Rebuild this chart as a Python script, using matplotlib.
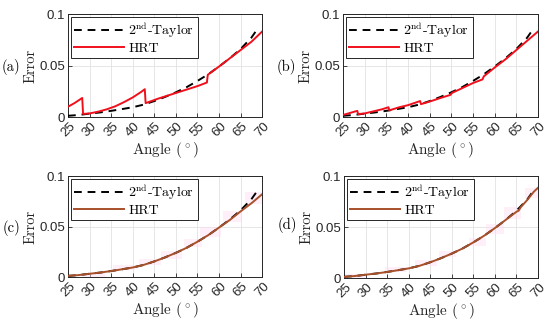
import numpy as np
import matplotlib
matplotlib.use('Agg')
import matplotlib.pyplot as plt

plt.rcParams['mathtext.fontset'] = 'cm'
plt.rcParams['axes.unicode_minus'] = False

# Data
taylor_x = [25, 27.5, 30, 32.5, 35, 37.5, 40, 42.5, 45, 47.5, 50, 52.5, 55, 57.5, 60, 62.5, 65, 67.5, 69]
taylor_y = [0.0012, 0.002, 0.0033, 0.0045, 0.006, 0.0077, 0.0095, 0.012, 0.0155, 0.0195, 0.024,
            0.029, 0.035, 0.0415, 0.049, 0.057, 0.066, 0.077, 0.086]

hrt_a_x = [25, 26.5, 28.3, 28.5, 30, 32, 34, 36, 38, 40, 42, 42.8, 43.0, 46, 49, 52, 55, 57.2, 57.4,
           60, 62.5, 65, 67.5, 70]
hrt_a_y = [0.010, 0.0135, 0.0185, 0.003, 0.0035, 0.0052, 0.0075, 0.0105, 0.0145, 0.019, 0.0245, 0.027,
           0.0135, 0.018, 0.022, 0.026, 0.030, 0.0335, 0.041, 0.049, 0.057, 0.065, 0.073, 0.083]

hrt_b_x = [25, 28.3, 28.5, 30, 32, 34, 35.5, 35.7, 38, 40, 42.8, 43.0, 45, 47.5, 49.8, 50.2, 52.5,
           55, 57.2, 57.5, 60, 62.5, 65, 67.5, 70]
hrt_b_y = [0.002, 0.006, 0.0028, 0.0035, 0.0055, 0.0075, 0.0095, 0.0065, 0.0095, 0.0115, 0.0155,
           0.0125, 0.015, 0.0185, 0.0215, 0.0235, 0.028, 0.033, 0.0365, 0.0395, 0.048, 0.056, 0.065,
           0.074, 0.083]

hrt_c_x = [25, 27.5, 30, 32.5, 35, 37.5, 40, 42.5, 45, 47.5, 50, 52.5, 55, 57.5, 60, 62.5, 65, 67.5, 70]
hrt_c_y = [0.0012, 0.002, 0.0033, 0.0045, 0.006, 0.0077, 0.0095, 0.012, 0.0155, 0.0195, 0.024,
           0.029, 0.035, 0.0415, 0.049, 0.0565, 0.065, 0.073, 0.082]

hrt_d_x = [25, 27.5, 30, 32.5, 35, 37.5, 40, 42.5, 45, 47.5, 50, 52.5, 55, 57.5, 60, 62.5, 65,
           65.5, 66, 67.5, 69, 70]
hrt_d_y = [0.0012, 0.002, 0.0033, 0.0045, 0.006, 0.0077, 0.0095, 0.012, 0.0155, 0.0195, 0.024,
           0.029, 0.035, 0.0415, 0.049, 0.057, 0.065, 0.066, 0.0695, 0.0765, 0.0845, 0.0885]

# faint pink blocks behind curves in (c) and (d)
pink_c_x = [31, 38, 44, 49, 54, 58, 63, 68]
pink_c_w = [5, 5, 5, 5, 4, 5, 4, 4]
pink_c_lo = [0.0, 0.007, 0.012, 0.018, 0.030, 0.040, 0.055, 0.072]
pink_c_h = [0.004, 0.005, 0.006, 0.008, 0.008, 0.010, 0.010, 0.012]

pink_d_x = [27.5, 37, 44, 49, 56, 60, 64, 68.5]
pink_d_w = [5, 5, 5, 4, 4, 4, 4, 3]
pink_d_lo = [0.0, 0.006, 0.012, 0.021, 0.031, 0.043, 0.058, 0.078]
pink_d_h = [0.004, 0.005, 0.006, 0.006, 0.008, 0.010, 0.012, 0.010]

xticks = [25, 30, 35, 40, 45, 50, 55, 60, 65, 70]
yticks = [0, 0.05, 0.1]
ytick_labels = ['0', '0.05', '0.1']

panels = [
    ('(a)', hrt_a_x, hrt_a_y, '#f0101c', None),
    ('(b)', hrt_b_x, hrt_b_y, '#f0101c', None),
    ('(c)', hrt_c_x, hrt_c_y, '#a8502a', (pink_c_x, pink_c_w, pink_c_lo, pink_c_h)),
    ('(d)', hrt_d_x, hrt_d_y, '#a8502a', (pink_d_x, pink_d_w, pink_d_lo, pink_d_h)),
]

# axes boxes in figure fraction [left, bottom, width, height]
boxes = [
    [0.1236, 0.641, 0.353, 0.316],
    [0.6236, 0.641, 0.3545, 0.316],
    [0.1236, 0.150, 0.353, 0.310],
    [0.6255, 0.147, 0.3527, 0.313],
]
tag_pos = [(0.003, 0.795), (0.503, 0.795), (0.004, 0.300), (0.505, 0.310)]

fig = plt.figure(figsize=(5.5, 3.26), dpi=100, facecolor='white')

for (tag, hx, hy, col, pink), box, tp in zip(panels, boxes, tag_pos):
    ax = fig.add_axes(box)
    if pink is not None:
        px, pw, plo, ph = pink
        ax.bar(px, ph, width=pw, bottom=plo, color='#ffdcf0', alpha=0.45, zorder=1)
    l1, = ax.plot(taylor_x, taylor_y, '--', color='black', lw=1.4, dashes=(4, 3), zorder=3)
    l2, = ax.plot(hx, hy, '-', color=col, lw=1.4, zorder=4)
    ax.set_xlim(25, 70)
    ax.set_ylim(0, 0.1)
    ax.set_xticks(xticks)
    ax.set_yticks(yticks)
    ax.set_yticklabels(ytick_labels)
    ax.grid(True, color='#e2e2e2', lw=0.6)
    ax.set_axisbelow(True)
    ax.tick_params(direction='in', length=3, width=0.6, color='#262626', pad=2,
                   labelsize=9.5, labelcolor='#262626')
    for lab in ax.get_xticklabels():
        lab.set_rotation(45)
        lab.set_fontfamily('Liberation Sans')
    for lab in ax.get_yticklabels():
        lab.set_fontfamily('Liberation Sans')
    for s in ax.spines.values():
        s.set_color('#262626')
        s.set_linewidth(0.7)
    ax.set_ylabel('Error', family='cmr10', fontsize=10.5, color='#262626')
    ax.yaxis.set_label_coords(-0.155, 0.5)
    ax.set_xlabel(r'Angle ($^\circ$)', family='cmr10', fontsize=11, labelpad=1, color='#262626')
    leg = ax.legend([l1, l2], [r'$\mathrm{2^{nd}}$-Taylor', 'HRT'], loc='upper left',
                    prop={'family': 'cmr10', 'size': 10}, fancybox=False, framealpha=1,
                    edgecolor='#262626', handlelength=3.6, handletextpad=0.3,
                    borderaxespad=0.2, borderpad=0.25, labelspacing=0.15)
    leg.get_frame().set_linewidth(0.7)
    fig.text(tp[0], tp[1], tag, family='cmr10', fontsize=10.5, ha='left', va='center')

plt.savefig('out.png', dpi=100, facecolor='white')
